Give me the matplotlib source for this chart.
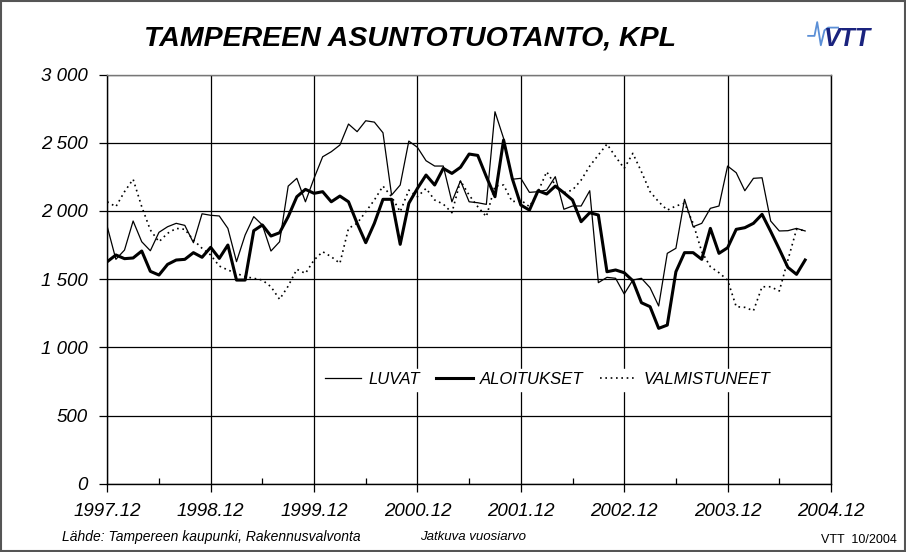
import matplotlib.pyplot as plt
import numpy as np
from matplotlib.ticker import FuncFormatter, MultipleLocator
from matplotlib.patches import Rectangle

# monthly rolling yearly sums, 1997.12 .. 2004.09
luvat = [1884, 1645, 1713, 1926, 1774, 1708, 1843, 1884, 1909, 1894, 1767, 1979,
         1968, 1963, 1872, 1628, 1823, 1958, 1897, 1706, 1774, 2182, 2239, 2067,
         2239, 2397, 2434, 2483, 2637, 2581, 2661, 2651, 2573, 2116, 2190, 2512,
         2466, 2368, 2329, 2329, 2067, 2221, 2067, 2060, 2048, 2727, 2532, 2232,
         2239, 2136, 2141, 2153, 2251, 2012, 2036, 2036, 2148, 1474, 1513, 1506,
         1391, 1493, 1506, 1437, 1303, 1689, 1726, 2085, 1884, 1909, 2019, 2036,
         2329, 2280, 2148, 2239, 2243, 1926, 1853, 1855, 1872, 1853]
aloitukset = [1628, 1677, 1650, 1655, 1706, 1557, 1530, 1608, 1640, 1645, 1694, 1660,
              1733, 1652, 1750, 1493, 1493, 1855, 1897, 1816, 1840, 1958, 2104, 2158,
              2129, 2141, 2067, 2109, 2067, 1909, 1767, 1909, 2085, 2085, 1755, 2056,
              2165, 2263, 2190, 2312, 2275, 2320, 2417, 2407, 2251, 2104, 2520, 2239,
              2043, 2006, 2148, 2124, 2182, 2133, 2080, 1921, 1987, 1970, 1554, 1567,
              1547, 1488, 1327, 1298, 1139, 1163, 1554, 1694, 1694, 1645, 1872, 1689,
              1730, 1865, 1877, 1909, 1975, 1850, 1720, 1586, 1535, 1640]
valmistuneet = [2067, 2031, 2141, 2232, 2031, 1860, 1774, 1836, 1872, 1865, 1787, 1726,
                1677, 1596, 1567, 1542, 1518, 1506, 1493, 1444, 1352, 1449, 1572, 1542,
                1640, 1701, 1664, 1616, 1872, 1909, 1994, 2080, 2182, 2104, 1994, 2153,
                2104, 2165, 2080, 2050, 1987, 2221, 2116, 2031, 1958, 2182, 2190, 2067,
                2080, 2031, 2141, 2287, 2190, 2133, 2153, 2226, 2329, 2410, 2490, 2397,
                2312, 2422, 2287, 2141, 2067, 2006, 2036, 2056, 1909, 1701, 1591, 1547,
                1493, 1298, 1293, 1268, 1444, 1444, 1413, 1640, 1865, 1855]
year_labels = ['1997.12', '1998.12', '1999.12', '2000.12', '2001.12',
               '2002.12', '2003.12', '2004.12']

plt.rcParams['font.family'] = ['Liberation Sans', 'DejaVu Sans']
plt.rcParams['font.style'] = 'italic'

fig = plt.figure(figsize=(9.06, 5.52), dpi=100)
ax = fig.add_axes([0.1184, 0.1237, 0.7988, 0.7413])

months = np.arange(len(luvat))
ax.plot(months, luvat, color='black', lw=0.9, label='LUVAT', zorder=3)
ax.plot(months, aloitukset, color='black', lw=2.2, label='ALOITUKSET', zorder=3)
ax.plot(months, valmistuneet, color='black', lw=1.2, linestyle=(0, (1, 2.2)),
        label='VALMISTUNEET', zorder=3)

ax.set_xlim(0, 84)
ax.set_ylim(0, 3000)
ax.set_xticks(np.arange(0, 85, 12))
ax.set_xticklabels(year_labels)
ax.set_xticks(np.arange(6, 84, 12), minor=True)
ax.yaxis.set_major_locator(MultipleLocator(500))
ax.yaxis.set_major_formatter(FuncFormatter(lambda v, p: f'{int(v):,}'.replace(',', ' ')))

ax.grid(True, which='major', color='black', lw=0.9)
ax.tick_params(axis='both', which='major', labelsize=13.5, length=6, width=0.9,
               direction='out', pad=8)
ax.tick_params(axis='x', which='minor', length=4, width=0.9, direction='in')
for s in ax.spines.values():
    s.set_linewidth(1.0)
ax.spines['top'].set_color('#777777')

leg = ax.legend(loc='center', bbox_to_anchor=(0.608, 0.254), ncol=3, frameon=True,
                fontsize=12, handlelength=2.2, handletextpad=0.4, columnspacing=1.0,
                borderpad=0.2)
leg.get_frame().set_edgecolor('white')
leg.get_frame().set_alpha(1)
leg.get_frame().set_boxstyle('square', pad=0)

fig.text(0.453, 0.930, 'TAMPEREEN ASUNTOTUOTANTO, KPL', ha='center', va='center',
         fontsize=20.5, fontweight='bold')

# VTT logo
fig.text(0.935, 0.930, 'VTT', ha='center', va='center', fontsize=18,
         fontweight='heavy', color='#1a237e')
fig.lines.append(plt.Line2D([0.892, 0.899, 0.902, 0.906, 0.910, 0.914, 0.925],
                            [0.935, 0.935, 0.960, 0.918, 0.945, 0.950, 0.950],
                            transform=fig.transFigure, color='#5b8fd6', lw=1.3))

fig.text(0.068, 0.027, 'Lähde: Tampereen kaupunki, Rakennusvalvonta', fontsize=10,
         va='center')
fig.text(0.464, 0.027, 'Jatkuva vuosiarvo', fontsize=9.5, va='center')
fig.text(0.990, 0.022, 'VTT  10/2004', fontsize=9, ha='right', va='center',
         fontstyle='normal')

fig.patches.append(Rectangle((0.001, 0.001), 0.998, 0.998, transform=fig.transFigure,
                             fill=False, edgecolor='#555555', lw=1.5))

fig.savefig('out.png', dpi=100)
